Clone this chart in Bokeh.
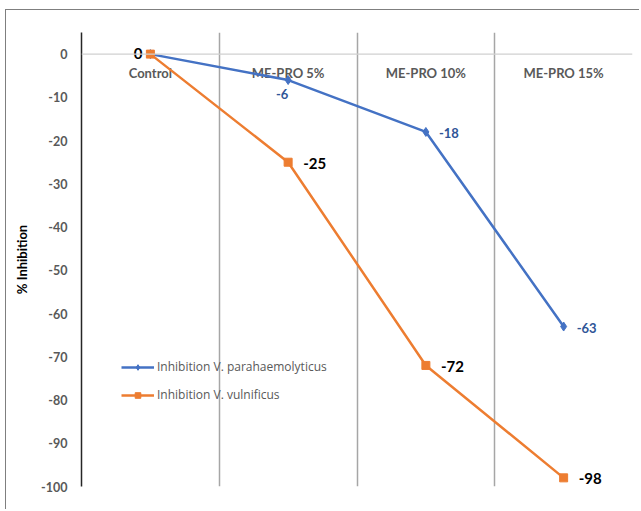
from bokeh.plotting import figure
from bokeh.models import Range1d, ColumnDataSource, FixedTicker, Span, Legend, LegendItem
from bokeh.core.properties import value
from bokeh.embed import file_html
from bokeh.resources import INLINE

categories = ["Control", "ME-PRO 5%", "ME-PRO 10%", "ME-PRO 15%"]
para = [0, -6, -18, -63]
vuln = [0, -25, -72, -98]
para_labels = ["", "-6", "-18", "-63"]
vuln_labels = ["0", "-25", "-72", "-98"]
y_ticks = [0, -10, -20, -30, -40, -50, -60, -70, -80, -90, -100]

FONT = "Lato"
BLUE = "#4472C4"
ORANGE = "#ED7D31"

xs = list(range(len(categories)))

p = figure(width=634, height=500, output_backend="svg", toolbar_location=None,
           x_range=Range1d(-0.5, len(categories) - 0.5), y_range=Range1d(-100, 5),
           min_border_left=75, min_border_right=8, min_border_top=22, min_border_bottom=24,
           margin=(9, 0, 0, 5),
           styles={"border-top": "1.5px solid #7f7f7f", "border-left": "1.5px solid #7f7f7f",
                   "box-sizing": "border-box"})
p.outline_line_color = None
p.background_fill_color = "white"
p.border_fill_color = "white"

# x axis hidden, grid lines between categories
p.xaxis.visible = False
p.xgrid.ticker = FixedTicker(ticks=[i + 0.5 for i in xs])
p.xgrid.grid_line_color = "#A6A6A6"
p.xgrid.grid_line_width = 1.5
p.ygrid.visible = False
p.add_layout(Span(location=0, dimension="width", line_color="#D0D0D0", line_width=1.2))

ax = p.yaxis[0]
ax.ticker = FixedTicker(ticks=y_ticks)
ax.major_label_overrides = {t: str(t) for t in y_ticks}
ax.axis_line_color = "#262626"
ax.axis_line_width = 1.5
ax.major_tick_line_color = None
ax.minor_tick_line_color = None
ax.major_tick_out = 0
ax.major_tick_in = 0
ax.minor_tick_out = 0
ax.major_label_text_font = FONT
ax.major_label_text_font_style = "bold"
ax.major_label_text_font_size = "12.5px"
ax.major_label_text_color = "#595959"
ax.major_label_standoff = 14
ax.axis_label = "% Inhibition"
ax.axis_label_text_font = FONT
ax.axis_label_text_font_style = "bold"
ax.axis_label_text_font_size = "13px"
ax.axis_label_text_color = "#000000"
ax.axis_label_standoff = 8

# category labels under the zero line
p.text(x=xs, y=[-4.4] * len(xs), text=categories, text_font=value(FONT),
       text_font_style="bold", text_font_size="13px", text_color="#595959",
       text_align="center", text_baseline="middle")

src_p = ColumnDataSource(dict(x=xs, y=para, lab=para_labels))
src_v = ColumnDataSource(dict(x=xs, y=vuln, lab=vuln_labels))

lp = p.line("x", "y", source=src_p, line_color=BLUE, line_width=2.5)
mp = p.scatter("x", "y", source=src_p, marker="diamond", size=9, color=BLUE)
lv = p.line("x", "y", source=src_v, line_color=ORANGE, line_width=2.5)
mv = p.scatter("x", "y", source=src_v, marker="square", size=8, color=ORANGE)

# data labels
src_pl = ColumnDataSource(dict(x=xs[1:2], y=para[1:2], lab=para_labels[1:2]))
p.text("x", "y", text="lab", source=src_pl, text_font=value(FONT), text_font_style="bold",
       text_font_size="13px", text_color="#2F5597", text_align="center",
       text_baseline="top", y_offset=9, x_offset=-6)
src_pr = ColumnDataSource(dict(x=xs[2:], y=para[2:], lab=para_labels[2:]))
p.text("x", "y", text="lab", source=src_pr, text_font=value(FONT), text_font_style="bold",
       text_font_size="13px", text_color="#2F5597", text_align="left",
       text_baseline="middle", x_offset=13, y_offset=1)
src_v0 = ColumnDataSource(dict(x=xs[:1], y=vuln[:1], lab=vuln_labels[:1]))
p.text("x", "y", text="lab", source=src_v0, text_font=value(FONT), text_font_style="bold",
       text_font_size="15px", text_color="#000000", text_align="right",
       text_baseline="middle", x_offset=-8, y_offset=-1)
src_vr = ColumnDataSource(dict(x=xs[1:], y=vuln[1:], lab=vuln_labels[1:]))
p.text("x", "y", text="lab", source=src_vr, text_font=value(FONT), text_font_style="bold",
       text_font_size="15px", text_color="#000000", text_align="left",
       text_baseline="middle", x_offset=15, y_offset=1)

legend = Legend(items=[LegendItem(label="Inhibition V. parahaemolyticus", renderers=[lp, mp]),
                       LegendItem(label="Inhibition V. vulnificus", renderers=[lv, mv])],
                location=(40, 83), label_text_font="Open Sans", label_text_font_size="12px",
                label_text_color="#595959", glyph_width=33, glyph_height=14,
                label_standoff=3, spacing=11, padding=2, border_line_color=None,
                background_fill_alpha=0)
p.add_layout(legend)

open("out.html", "w").write(file_html(p, INLINE))
